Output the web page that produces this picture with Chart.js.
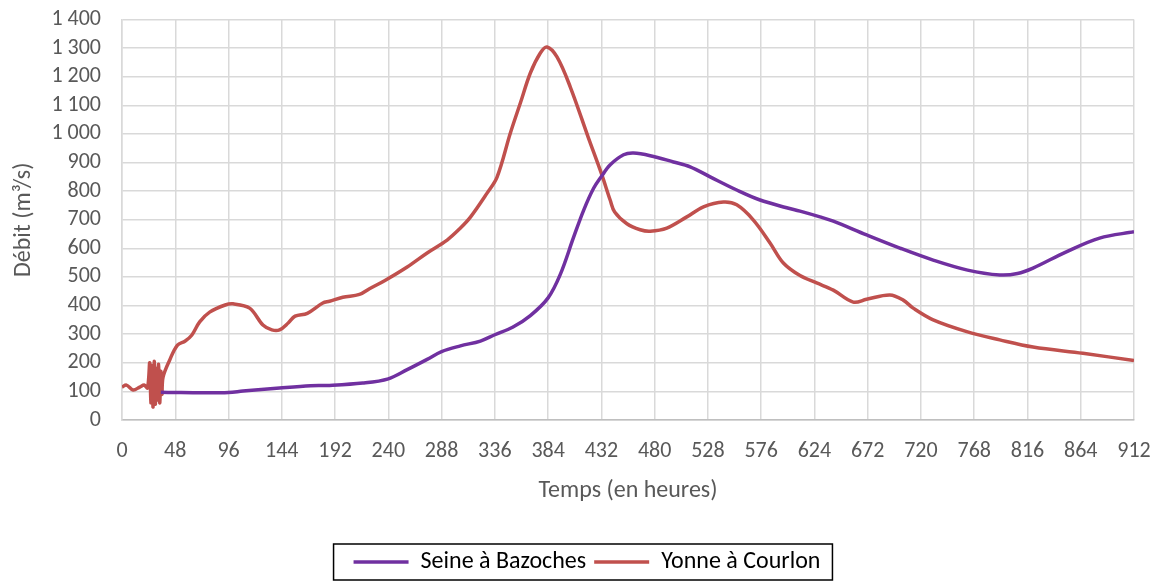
<!DOCTYPE html>
<html>
<head>
<meta charset="utf-8">
<script src="https://cdn.jsdelivr.net/npm/chart.js@4/dist/chart.umd.min.js"></script>
<style>
  html, body { margin: 0; padding: 0; background: #fff; }
  #wrap { width: 1171px; height: 586px; position: relative; }
</style>
</head>
<body>
<div id="wrap"><canvas id="chart"></canvas></div>
<script>
// hours (x) and discharge (m3/s)
var seineHours = [35, 48, 72, 96, 109, 142, 170, 187, 217, 240, 257, 275, 288, 305, 323, 336, 352, 368, 384, 395, 407, 416, 425, 432, 440, 452, 461, 476, 497, 512, 530, 554, 575, 599, 611, 629, 641, 671, 701, 731, 762, 791, 807, 821, 851, 881, 912];
var seine      = [97, 96, 95, 96, 101, 112, 120, 121, 129, 144, 176, 212, 239, 259, 276, 298, 324, 365, 427, 509, 639, 733, 810, 851, 892, 927, 933, 924, 902, 885, 850, 804, 769, 742, 730, 710, 695, 647, 601, 559, 524, 507, 512, 531, 588, 636, 658];

var yonneHours = [0, 4, 10, 16, 20, 23, 25, 26, 27, 28, 29, 30, 31, 32, 33, 34, 35, 36, 37, 43, 50, 57, 63, 70, 79, 93, 100, 115, 127, 135, 142, 150, 156, 167, 181, 187, 199, 214, 223, 237, 257, 275, 293, 305, 314, 329, 338, 350, 359, 368, 377, 383, 392, 404, 420, 432, 440, 444, 455, 467, 476, 491, 509, 524, 542, 554, 569, 584, 596, 611, 626, 641, 659, 671, 692, 704, 713, 731, 762, 791, 821, 866, 912];
var yonne      = [115, 122, 105, 115, 122, 112, 200, 60, 190, 45, 205, 55, 180, 70, 195, 60, 170, 90, 150, 210, 262, 276, 297, 343, 377, 402, 406, 391, 332, 315, 315, 340, 363, 373, 409, 415, 429, 439, 459, 488, 535, 584, 629, 671, 709, 793, 849, 1003, 1108, 1213, 1283, 1304, 1269, 1164, 990, 862, 768, 727, 686, 665, 660, 671, 710, 745, 762, 752, 699, 619, 549, 505, 479, 454, 412, 422, 437, 419, 391, 350, 308, 280, 255, 233, 208];

var seriesNames = ['Seine à Bazoches', 'Yonne à Courlon'];
var xTicks = { min: 0, max: 912, step: 48 };
var yTicks = { min: 0, max: 1400, step: 100 };

function pairs(xs, ys) {
  return xs.map(function (x, i) { return { x: x, y: ys[i] }; });
}

function spaced(v) {
  return String(v).replace(/\B(?=(\d{3})+(?!\d))/g, ' ');
}

var FONT = "Carlito, Lato, 'Open Sans', sans-serif";
var GREY = '#595959';
var LEGEND_SHIFT = 18;

// nudges the legend to the right and draws the black frame round it
var legendFrame = {
  id: 'legendFrame',
  afterLayout: function (chart) {
    var lg = chart.legend;
    if (!lg) return;
    lg.left += LEGEND_SHIFT;
    lg.right += LEGEND_SHIFT;
    (lg.legendHitBoxes || []).forEach(function (b) { b.left += LEGEND_SHIFT; });
  },
  afterDraw: function (chart) {
    var lg = chart.legend;
    if (!lg || !lg.legendHitBoxes || !lg.legendHitBoxes.length) return;
    var boxes = lg.legendHitBoxes;
    var left = boxes[0].left, right = boxes[0].left + boxes[0].width;
    var top = boxes[0].top, bottom = boxes[0].top + boxes[0].height;
    boxes.forEach(function (b) {
      left = Math.min(left, b.left);
      right = Math.max(right, b.left + b.width);
      top = Math.min(top, b.top);
      bottom = Math.max(bottom, b.top + b.height);
    });
    var ctx = chart.ctx;
    ctx.save();
    ctx.strokeStyle = '#000';
    ctx.lineWidth = 1.5;
    ctx.strokeRect(left - 20, top - 6, (right - left) + 32, (bottom - top) + 12);
    ctx.restore();
  }
};

new Chart(document.getElementById('chart'), {
  type: 'line',
  data: {
    datasets: [{
      label: seriesNames[0],
      data: pairs(seineHours, seine),
      borderColor: '#7030A0',
      backgroundColor: '#7030A0',
      borderWidth: 3.5,
      pointRadius: 0,
      tension: 0.35,
      fill: false
    }, {
      label: seriesNames[1],
      data: pairs(yonneHours, yonne),
      borderColor: '#C0504D',
      backgroundColor: '#C0504D',
      borderWidth: 3.5,
      pointRadius: 0,
      tension: 0.35,
      fill: false
    }]
  },
  options: {
    responsive: true,
    maintainAspectRatio: false,
    animation: false,
    layout: { padding: { top: 19.5, right: 37, bottom: 2, left: 4 } },
    plugins: {
      legend: {
        position: 'bottom',
        labels: {
          color: '#000',
          font: { family: FONT, size: 24 },
          usePointStyle: true,
          pointStyle: 'line',
          pointStyleWidth: 55,
          boxWidth: 55,
          boxHeight: 3,
          padding: 8
        }
      },
      tooltip: { enabled: false }
    },
    scales: {
      x: {
        type: 'linear',
        min: xTicks.min,
        max: xTicks.max,
        ticks: {
          stepSize: xTicks.step,
          color: GREY,
          font: { family: FONT, size: 22 },
          padding: 18,
          maxRotation: 0,
          autoSkip: false
        },
        grid: { color: '#d9d9d9', lineWidth: 1.5, drawTicks: false },
        border: { color: '#bfbfbf', width: 1.5 },
        title: {
          display: true,
          text: 'Temps (en heures)',
          color: GREY,
          font: { family: FONT, size: 24 },
          padding: { top: 10, bottom: 37 }
        },
        afterFit: function (scale) {
          scale.height = 122;
          scale.paddingLeft = 0;
          scale.paddingRight = 0;
        }
      },
      y: {
        min: yTicks.min,
        max: yTicks.max,
        ticks: {
          stepSize: yTicks.step,
          color: GREY,
          font: { family: FONT, size: 22 },
          padding: 21,
          autoSkip: false,
          callback: function (v) { return spaced(v); }
        },
        grid: { color: '#d9d9d9', lineWidth: 1.5, drawTicks: false },
        border: { color: '#d9d9d9', width: 1.5 },
        title: {
          display: true,
          text: 'Débit (m³/s)',
          color: GREY,
          font: { family: FONT, size: 24 },
          padding: { top: 6, bottom: 4 }
        },
        afterFit: function (scale) {
          scale.width = 118;
          scale.paddingTop = 0;
          scale.paddingBottom = 0;
        }
      }
    }
  },
  plugins: [legendFrame]
});
</script>
</body>
</html>
